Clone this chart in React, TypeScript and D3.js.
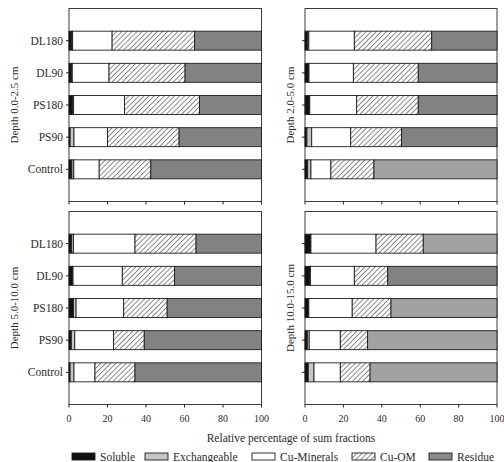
import React from 'react';
import * as d3 from 'd3';

// Treatments, listed top to bottom within each panel
const categories = ['DL180', 'DL90', 'PS180', 'PS90', 'Control'];
const fractions = ['Soluble', 'Exchangeable', 'Cu-Minerals', 'Cu-OM', 'Residue'];
const xTicks = [0, 20, 40, 60, 80, 100];
const depthLabels = ['Depth 0.0-2.5 cm', 'Depth 2.0-5.0 cm', 'Depth 5.0-10.0 cm', 'Depth 10.0-15.0 cm'];

// Relative percentages: [Soluble, Exchangeable, Cu-Minerals, Cu-OM, Residue]
const depth0to2 = [
  [1.5, 0.4, 20.5, 42.8, 34.8],
  [1.5, 0.2, 19.1, 39.5, 39.7],
  [2.0, 0.4, 26.4, 39.0, 32.2],
  [0.6, 2.0, 17.4, 37.2, 42.8],
  [1.5, 1.0, 13.2, 26.8, 57.5],
];
const depth2to5 = [
  [1.5, 0.5, 23.7, 40.3, 34.0],
  [1.9, 0.2, 23.1, 33.8, 41.0],
  [2.3, 0.2, 24.4, 32.1, 41.0],
  [1.0, 2.5, 20.3, 26.5, 49.7],
  [1.4, 1.7, 10.4, 22.4, 64.1],
];
const depth5to10 = [
  [1.4, 0.9, 32.0, 31.7, 34.0],
  [1.9, 0.2, 25.6, 27.1, 45.2],
  [2.3, 1.4, 24.7, 22.6, 49.0],
  [1.2, 1.8, 20.1, 16.0, 60.9],
  [0.6, 2.0, 10.9, 20.8, 65.7],
];
const depth10to15 = [
  [2.8, 0.3, 33.9, 24.6, 38.4],
  [2.6, 0.2, 22.9, 17.4, 56.9],
  [1.7, 0.3, 22.6, 20.2, 55.2],
  [1.2, 1.0, 16.2, 14.2, 67.4],
  [1.7, 3.0, 13.7, 15.5, 66.1],
];

const panelData = [depth0to2, depth2to5, depth5to10, depth10to15];

// Residue fill tone per bar (the print uses two grey tones)
const DARK = '#828282';
const LIGHT = '#a2a2a2';
const residueTones = [
  [DARK, DARK, DARK, DARK, DARK],
  [DARK, DARK, DARK, DARK, LIGHT],
  [DARK, DARK, DARK, DARK, DARK],
  [LIGHT, DARK, LIGHT, LIGHT, LIGHT],
];

const fillFor = (i: number, residue: string) =>
  ['#111111', '#c6c6c6', '#ffffff', 'url(#hatch)', residue][i];

const panels = [
  { left: 69, right: 261.5, top: 8.5, bottom: 201.5, cats: true, labels: false, titleX: 14 },
  { left: 305, right: 497, top: 8.5, bottom: 201.5, cats: false, labels: false, titleX: 290 },
  { left: 69, right: 261.5, top: 211.5, bottom: 404.5, cats: true, labels: true, titleX: 14 },
  { left: 305, right: 497, top: 211.5, bottom: 404.5, cats: false, labels: true, titleX: 290 },
];

const FONT = '"Liberation Serif", "Times New Roman", serif';
const TEXT = '#2b2b2b';

function Panel({ idx }: { idx: number }) {
  const p = panels[idx];
  const rows = panelData[idx];
  const x = d3.scaleLinear().domain([0, 100]).range([p.left, p.right]);
  const y = d3.scaleLinear().domain([0, 6]).range([p.top, p.bottom]);
  const barH = (y(1) - y(0)) * 0.59;
  const midY = (p.top + p.bottom) / 2;

  return (
    <g>
      <rect x={p.left} y={p.top} width={p.right - p.left} height={p.bottom - p.top}
        fill="#fff" stroke="#3a3a3a" strokeWidth={1} />
      {rows.map((vals, r) => {
        const cum = [0, ...Array.from(d3.cumsum(vals))];
        const cy = y(r + 1);
        return (
          <g key={r}>
            {vals.map((v, k) => (
              <rect key={k} x={x(cum[k])} y={cy - barH / 2} width={x(cum[k + 1]) - x(cum[k])}
                height={barH} fill={fillFor(k, residueTones[idx][r])} stroke="#1e1e1e" strokeWidth={0.9} />
            ))}
            <line x1={p.left - 3} x2={p.left} y1={cy} y2={cy} stroke="#222" strokeWidth={1} />
            {p.cats && (
              <text x={p.left - 6} y={cy} dy="0.35em" textAnchor="end" fontFamily={FONT}
                fontSize={11.5} fill={TEXT}>{categories[r]}</text>
            )}
          </g>
        );
      })}
      {xTicks.map((t) => (
        <g key={t}>
          <line x1={x(t)} x2={x(t)} y1={p.bottom} y2={p.bottom + 3} stroke="#222" strokeWidth={1} />
          {p.labels && (
            <text x={x(t)} y={422} textAnchor="middle" fontFamily={FONT} fontSize={10} fill={TEXT}>{t}</text>
          )}
        </g>
      ))}
      <text transform={`translate(${p.titleX},${midY}) rotate(-90)`} dy="0.35em" textAnchor="middle"
        fontFamily={FONT} fontSize={11} fill={TEXT}>{depthLabels[idx]}</text>
    </g>
  );
}

const legendX = [72, 145, 252, 352, 429];

export default function App() {
  return (
    <svg width={504} height={462} style={{ position: 'absolute', left: 0, top: 0, background: '#fff' }}>
      <defs>
        <pattern id="hatch" width={3.6} height={3.6} patternUnits="userSpaceOnUse" patternTransform="rotate(45)">
          <rect width={3.6} height={3.6} fill="#fff" />
          <line x1={0} y1={0} x2={0} y2={3.6} stroke="#1a1a1a" strokeWidth={1} />
        </pattern>
      </defs>
      {panels.map((_, i) => <Panel key={i} idx={i} />)}
      <text x={291} y={442} textAnchor="middle" fontFamily={FONT} fontSize={11.5} fill={TEXT}>
        Relative percentage of sum fractions
      </text>
      {fractions.map((f, i) => (
        <g key={f}>
          <rect x={legendX[i]} y={453} width={23} height={7}
            fill={fillFor(i, '#8a8a8a')} stroke="#1e1e1e" strokeWidth={0.9} />
          <text x={legendX[i] + 28} y={461} fontFamily={FONT} fontSize={11.5} fill={TEXT}>{f}</text>
        </g>
      ))}
    </svg>
  );
}
